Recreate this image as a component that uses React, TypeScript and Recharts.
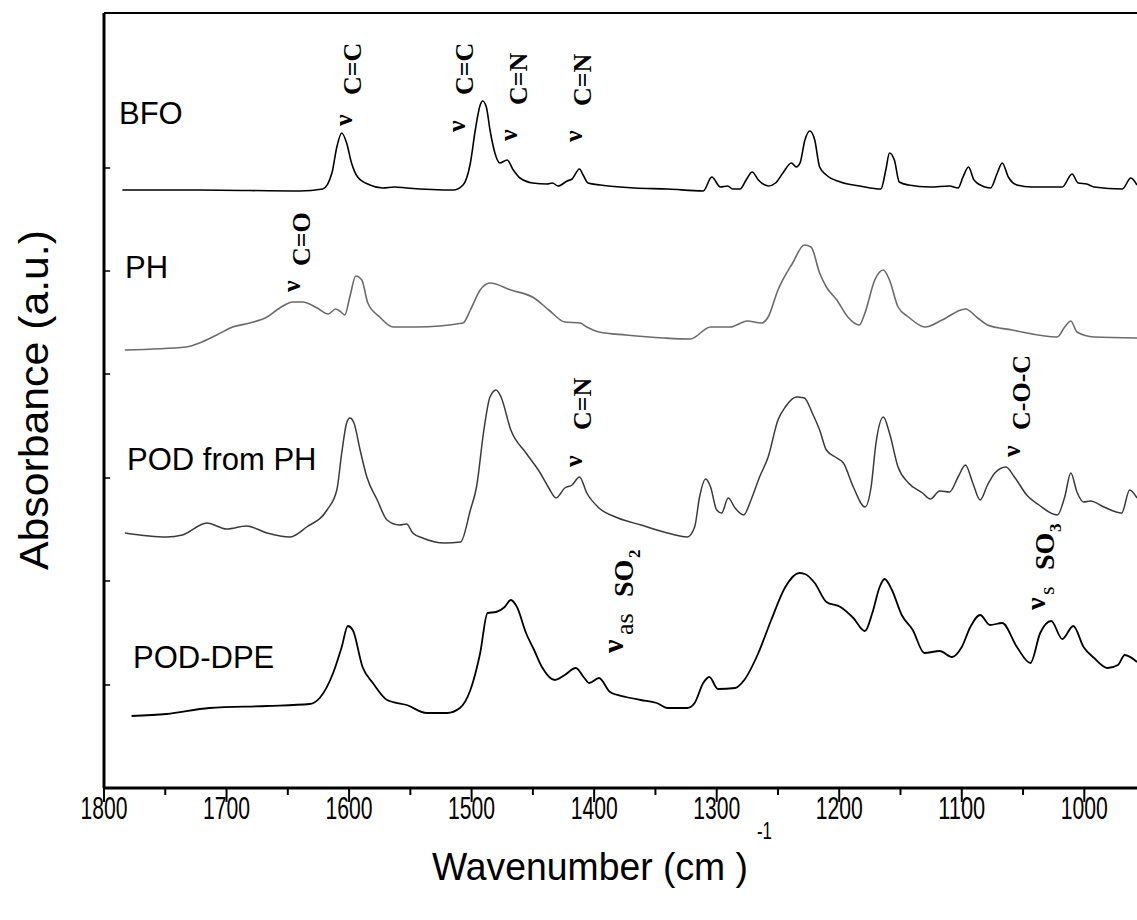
import React from 'react';
import { LineChart, Line, XAxis, YAxis, ReferenceLine } from 'recharts';

// spectra: [wavenumber (cm-1), absorbance (a.u., offset per trace)]
const bfo: [number, number][] = [
  [1785, 5.98], [1722, 5.98], [1640, 5.97], [1621.5, 5.99], [1614, 6.15], [1610, 6.41], [1606, 6.55],
  [1602, 6.45], [1598, 6.25], [1593, 6.11], [1583, 6.03], [1572.5, 6.0], [1563, 6.01], [1553, 6.0],
  [1515, 5.98], [1507, 6.03], [1501, 6.25], [1497, 6.58], [1493, 6.83], [1491, 6.87], [1488, 6.81],
  [1485, 6.58], [1481, 6.35], [1477, 6.25], [1471, 6.28], [1466, 6.18], [1460.5, 6.1], [1450, 6.05],
  [1438.5, 6.04], [1434, 6.05], [1429.5, 6.02], [1422, 6.07], [1418, 6.09], [1412, 6.19], [1409, 6.13],
  [1405, 6.05], [1395, 6.03], [1379, 6.01], [1367, 6.0], [1340, 5.99], [1311, 5.97], [1304, 6.11],
  [1297, 6.01], [1291, 6.02], [1287, 5.99], [1281, 5.99], [1276, 6.08], [1271, 6.16], [1266, 6.08],
  [1258, 6.02], [1252, 6.05], [1246, 6.15], [1239, 6.25], [1235, 6.21], [1232, 6.25], [1228, 6.48],
  [1224, 6.57], [1220, 6.48], [1216, 6.21], [1210.5, 6.13], [1199, 6.06], [1183, 6.02], [1166, 5.99],
  [1162, 6.18], [1159, 6.35], [1155, 6.28], [1151, 6.06], [1143.5, 6.03], [1126, 6.01], [1110, 6.02],
  [1103, 6.0], [1099, 6.11], [1094.5, 6.21], [1090, 6.08], [1081, 6.01], [1076.5, 6.0], [1071, 6.15],
  [1067, 6.25], [1062, 6.11], [1055, 6.03], [1043, 6.01], [1018, 6.01], [1010, 6.14], [1005, 6.05],
  [998, 6.04], [992, 6.01], [969, 5.99], [962, 6.1], [957, 6.03],
];

const ph: [number, number][] = [
  [1783, 4.38], [1732.6, 4.41], [1722, 4.45], [1708, 4.53], [1695, 4.61], [1681, 4.65], [1667, 4.71],
  [1659, 4.78], [1652.5, 4.83], [1646, 4.86], [1638, 4.86], [1626, 4.8], [1617, 4.74], [1611, 4.79],
  [1607.6, 4.77], [1603.5, 4.73], [1599.4, 4.91], [1594.5, 5.12], [1589.6, 5.08], [1584.7, 4.85],
  [1575, 4.71], [1564, 4.61], [1545, 4.61], [1507, 4.65], [1501, 4.78], [1493, 4.98], [1485, 5.05],
  [1468, 4.98], [1449, 4.9], [1437, 4.78], [1424, 4.66], [1411.5, 4.65], [1406, 4.61], [1396, 4.56],
  [1374, 4.53], [1343, 4.5], [1321.6, 4.49], [1305, 4.61], [1289, 4.61], [1275, 4.67], [1263.6, 4.65],
  [1258, 4.71], [1250, 4.98], [1238, 5.25], [1228.5, 5.43], [1223, 5.41], [1216, 5.15], [1210.5, 5.01],
  [1202, 4.88], [1193, 4.71], [1183.6, 4.63], [1179, 4.75], [1171, 5.08], [1164, 5.18], [1159, 5.08],
  [1152, 4.81], [1143.5, 4.71], [1130, 4.61], [1116, 4.68], [1097, 4.79], [1087, 4.7], [1079, 4.63],
  [1059, 4.58], [1022, 4.51], [1016, 4.61], [1011, 4.67], [1006, 4.56], [992, 4.51], [957, 4.5],
];

const podFromPh: [number, number][] = [
  [1783, 2.55], [1749, 2.51], [1736, 2.53], [1716, 2.65], [1700, 2.59], [1683.6, 2.62], [1667, 2.55],
  [1648.5, 2.51], [1634.6, 2.61], [1618, 2.78], [1610, 2.98], [1606, 3.35], [1602, 3.65], [1599.4, 3.7],
  [1596, 3.65], [1591, 3.38], [1585.5, 3.11], [1577, 2.88], [1569, 2.68], [1559, 2.63], [1553, 2.64],
  [1548, 2.55], [1540, 2.5], [1522, 2.45], [1509, 2.46], [1501, 2.78], [1496, 3.01], [1490, 3.58],
  [1485, 3.91], [1480, 3.98], [1476, 3.91], [1468, 3.58], [1455.6, 3.35], [1444, 3.15], [1437, 3.0],
  [1431, 2.9], [1424, 3.0], [1418, 3.03], [1412, 3.11], [1406, 2.95], [1396, 2.8], [1380.5, 2.7],
  [1361.7, 2.63], [1343, 2.56], [1324, 2.51], [1318, 2.61], [1314, 2.91], [1309, 3.09], [1305, 3.01],
  [1300, 2.78], [1296, 2.75], [1290.6, 2.9], [1285, 2.8], [1278, 2.73], [1272, 2.88], [1265, 3.11],
  [1258, 3.31], [1250, 3.68], [1244, 3.81], [1235, 3.91], [1228.5, 3.9], [1222, 3.75], [1216, 3.58],
  [1210.5, 3.38], [1202, 3.3], [1196.6, 3.25], [1188.5, 3.01], [1179, 2.81], [1174, 3.01], [1170, 3.45],
  [1164, 3.71], [1159, 3.55], [1152, 3.21], [1143.5, 3.05], [1132, 2.95], [1125.6, 2.89], [1118, 2.97],
  [1110, 2.96], [1103, 3.11], [1097, 3.23], [1091, 3.05], [1085, 2.88], [1079, 3.03], [1073, 3.15],
  [1064, 3.21], [1057, 3.11], [1047, 2.93], [1037, 2.83], [1022, 2.73], [1016, 2.91], [1011, 3.15],
  [1006, 2.96], [1000.6, 2.86], [995, 2.87], [984, 2.81], [969.5, 2.75], [963, 2.98], [957, 2.9],
];

const podDpe: [number, number][] = [
  [1777.5, 0.72], [1749, 0.74], [1714, 0.8], [1667, 0.82], [1632, 0.84], [1624, 0.9], [1613, 1.15],
  [1606, 1.41], [1601, 1.62], [1597, 1.58], [1589, 1.21], [1580.6, 1.05], [1569, 0.88], [1553, 0.83],
  [1536.5, 0.75], [1520, 0.75], [1509.6, 0.8], [1501, 0.98], [1493, 1.35], [1487, 1.75], [1480, 1.76],
  [1473, 1.81], [1468, 1.88], [1463, 1.81], [1455.6, 1.55], [1449, 1.38], [1442.6, 1.21], [1432, 1.08],
  [1424, 1.13], [1415, 1.2], [1408, 1.1], [1404, 1.05], [1396, 1.1], [1387, 0.96], [1374, 0.91],
  [1362, 0.88], [1349, 0.85], [1340, 0.8], [1324, 0.8], [1318, 0.85], [1311, 1.05], [1306, 1.11],
  [1299, 0.99], [1285, 1.0], [1277.5, 1.08], [1266, 1.35], [1255.5, 1.68], [1244, 2.01], [1232.6, 2.15],
  [1228, 2.14], [1220, 2.05], [1210.5, 1.86], [1199, 1.81], [1188.5, 1.7], [1179, 1.57], [1173, 1.75],
  [1167, 2.01], [1163, 2.09], [1157, 1.98], [1149, 1.73], [1140, 1.58], [1130.5, 1.35], [1118, 1.37],
  [1108, 1.31], [1100, 1.41], [1093, 1.61], [1085, 1.73], [1077, 1.63], [1067, 1.65], [1055, 1.41],
  [1044, 1.25], [1036, 1.55], [1027, 1.67], [1018, 1.49], [1009, 1.62], [1000.6, 1.41], [992, 1.3],
  [981, 1.2], [972.6, 1.23], [967, 1.33], [957, 1.26],
];

const xTicks = [1800, 1750, 1700, 1650, 1600, 1550, 1500, 1450, 1400, 1350, 1300, 1250, 1200, 1150, 1100, 1050, 1000];
const yTicks = [1.03, 2.07, 3.1, 4.14, 5.17, 6.2];

const seriesNames = ['BFO', 'PH', 'POD from PH', 'POD-DPE'];

const rows = (pts: [number, number][]) => pts.map(([w, a]) => ({ w, a }));

const SANS = 'Liberation Sans, Arial, sans-serif';
const SERIF = 'Liberation Serif, Times New Roman, serif';

// peak assignments, drawn rotated (text runs bottom -> top)
const notes = [
  { t: 'ν', x: 352, y: 126, s: 26 },
  { t: 'C=C', x: 361, y: 95, s: 26 },
  { t: 'ν', x: 465, y: 132, s: 26 },
  { t: 'C=C', x: 473, y: 95, s: 26 },
  { t: 'ν', x: 517, y: 141, s: 26 },
  { t: 'C=N', x: 527, y: 105, s: 26 },
  { t: 'ν', x: 582, y: 142, s: 26 },
  { t: 'C=N', x: 591, y: 106, s: 26 },
  { t: 'ν', x: 300, y: 292, s: 26 },
  { t: 'C=O', x: 310, y: 266, s: 26 },
  { t: 'ν', x: 582, y: 467, s: 26 },
  { t: 'C=N', x: 591, y: 430, s: 26 },
  { t: 'ν', x: 1020, y: 457, s: 26 },
  { t: 'C-O-C', x: 1030, y: 430, s: 26 },
  { t: 'ν', x: 623, y: 653, s: 30 },
  { t: 'as', x: 633, y: 635, s: 26, normal: true },
  { t: 'SO', x: 633, y: 597, s: 28 },
  { t: '2', x: 640, y: 558, s: 17 },
  { t: 'ν', x: 1045, y: 610, s: 28 },
  { t: 's', x: 1054, y: 595, s: 22, normal: true },
  { t: 'SO', x: 1054, y: 570, s: 28 },
  { t: '3', x: 1061, y: 532, s: 17 },
];

const nameSpots = [
  { x: 119, y: 124 },
  { x: 125, y: 278 },
  { x: 127, y: 470 },
  { x: 133, y: 668 },
];

const XTick = (props: any) => {
  const { x, y, payload } = props;
  const major = payload.value % 100 === 0;
  return (
    <g>
      <line x1={x} x2={x} y1={y} y2={y + (major ? 14 : 7)} stroke="#000" strokeWidth={2} />
      {major && (
        <text
          x={x}
          y={y + 31}
          textAnchor="middle"
          fontFamily={SANS}
          fontSize={31}
          textLength={47}
          lengthAdjust="spacingAndGlyphs"
          fill="#000"
        >
          {payload.value}
        </text>
      )}
    </g>
  );
};

export default function App() {
  return (
    <div style={{ position: 'absolute', left: 0, top: 0, width: 1137, height: 920, background: '#fff' }}>
      <LineChart width={1137} height={920} margin={{ top: 13, right: 0, bottom: 0, left: 0 }}>
        <XAxis
          type="number"
          dataKey="w"
          domain={[957, 1800]}
          reversed
          allowDataOverflow
          ticks={xTicks}
          interval={0}
          height={132}
          tick={<XTick />}
          tickLine={false}
          tickSize={0}
          tickMargin={0}
          axisLine={{ stroke: '#000', strokeWidth: 3 }}
        />
        <YAxis
          type="number"
          domain={[0, 7.75]}
          allowDataOverflow
          width={104}
          tick={false}
          tickLine={false}
          axisLine={{ stroke: '#000', strokeWidth: 3 }}
        />
        <ReferenceLine y={7.75} stroke="#000" strokeWidth={2} />
        {yTicks.map((t) => (
          <ReferenceLine key={t} segment={[{ x: 1800, y: t }, { x: 1795, y: t }]} stroke="#000" strokeWidth={1.5} />
        ))}
        <Line data={rows(bfo)} dataKey="a" type="monotone" dot={false} stroke="#000" strokeWidth={1.6} isAnimationActive={false} />
        <Line data={rows(ph)} dataKey="a" type="monotone" dot={false} stroke="#6b6b6b" strokeWidth={1.6} isAnimationActive={false} />
        <Line data={rows(podFromPh)} dataKey="a" type="monotone" dot={false} stroke="#3a3a3a" strokeWidth={1.5} isAnimationActive={false} />
        <Line data={rows(podDpe)} dataKey="a" type="monotone" dot={false} stroke="#000" strokeWidth={1.8} isAnimationActive={false} />
      </LineChart>
      <svg width={1137} height={920} style={{ position: 'absolute', left: 0, top: 0, pointerEvents: 'none' }}>
        {seriesNames.map((n, i) => (
          <text key={n} x={nameSpots[i].x} y={nameSpots[i].y} fontFamily={SANS} fontSize={31} fill="#000">
            {n}
          </text>
        ))}
        {notes.map((n, i) => (
          <text
            key={i}
            x={n.x}
            y={n.y}
            transform={`rotate(-90 ${n.x} ${n.y})`}
            fontFamily={SERIF}
            fontWeight={n.normal ? 'normal' : 'bold'}
            fontSize={n.s}
            fill="#000"
          >
            {n.t}
          </text>
        ))}
        <text
          x={432}
          y={880}
          fontFamily={SANS}
          fontSize={39}
          textLength={316}
          lengthAdjust="spacingAndGlyphs"
          fill="#000"
        >
          Wavenumber (cm )
        </text>
        <text x={757} y={839} fontFamily={SANS} fontSize={24} textLength={15} lengthAdjust="spacingAndGlyphs" fill="#000">
          -1
        </text>
        <text
          x={48}
          y={570}
          transform="rotate(-90 48 570)"
          fontFamily={SANS}
          fontSize={40}
          textLength={340}
          lengthAdjust="spacingAndGlyphs"
          fill="#000"
        >
          Absorbance (a.u.)
        </text>
      </svg>
    </div>
  );
}
